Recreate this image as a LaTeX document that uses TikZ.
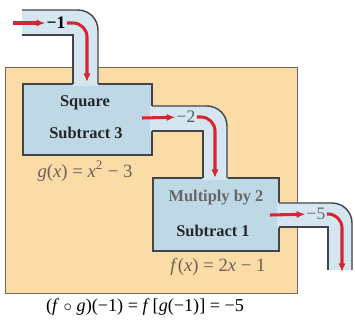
\documentclass[tikz,border=0pt]{standalone}
\usepackage{fontspec}
\setmainfont{Liberation Serif}
\usetikzlibrary{arrows.meta}
\definecolor{peach}{RGB}{251,219,166}
\definecolor{peachline}{RGB}{120,105,95}
\definecolor{boxblue}{RGB}{190,216,230}
\definecolor{pipeblue}{RGB}{212,231,241}
\definecolor{wallgray}{RGB}{68,68,72}
\definecolor{flowred}{RGB}{214,38,50}
\definecolor{rulebrown}{RGB}{110,96,88}

\begin{document}
\begin{tikzpicture}[x=0.03cm,y=-0.03cm,>=Latex,
  frame/.style={draw=peachline,line width=0.8pt,fill=peach,inner sep=0pt,outer sep=0pt,anchor=north west},
  machine/.style={draw=wallgray,line width=1.2pt,fill=boxblue,inner sep=0pt,outer sep=0pt,anchor=north west},
  pipe/.style={pipeblue,line width=0.75cm,line cap=butt,rounded corners=0.225cm},
  wall/.style={wallgray,line width=1.2pt},
  outerwall/.style={wall,rounded corners=0.6cm},
  flow/.style={flowred,line width=2.6pt,-{Latex[length=2.6mm,width=2.2mm]}},
  bendflow/.style={flow,rounded corners=0.42cm},
  optext/.style={font=\fontsize{14}{16}\selectfont\bfseries,text=black!85},
  rule/.style={font=\fontsize{16}{18}\selectfont,text=rulebrown},
  value/.style={font=\fontsize{15}{17}\selectfont,inner sep=1pt}]
\useasboundingbox (0,0) rectangle (355,323);
% outer machine and the two inner ones
\node[frame,minimum width=8.76cm,minimum height=6.78cm] (comp) at (5,67) {};
\node[machine,minimum width=3.87cm,minimum height=2.13cm] (g) at (23,84) {};
\node[machine,minimum width=3.78cm,minimum height=2.19cm] (f) at (153,178) {};
% pipes
\draw[pipe] (22,22.5) -- (85.5,22.5) -- (85.5,86);
\draw[pipe] (150,118.5) -- (215,118.5) -- (215,180);
\draw[pipe] (277,215) -- (340,215) -- (340,270);
\draw[outerwall] (22,10) -- (98,10) -- (98,84);
\draw[wall] (22,35) -- (73,35) -- (73,84);
\draw[outerwall] (152,106) -- (227,106) -- (227,178);
\draw[wall] (152,131) -- (203,131) -- (203,178);
\draw[outerwall] (279,203) -- (352,203) -- (352,270);
\draw[wall] (279,227) -- (328,227) -- (328,270);
% values flowing through
\node[value,font=\fontsize{15}{17}\selectfont\bfseries] (v1) at (56,23) {−1};
\node[value,text=black!65] (v2) at (186,117) {−2};
\node[value,text=black!60] (v5) at (316,214) {−5};
\coordinate (in1) at (13,23);
\coordinate (in2) at (142,118);
\coordinate (in5) at (270,215);
\draw[flow] (in1) -- (v1);
\draw[flow] (in2) -- (v2);
\draw[flow] (in5) -- (v5);
\draw[bendflow] (v1.east) -- (87,23) -- (87,82);
\draw[bendflow] (v2.east) -- (215,117) -- (215,178);
\draw[bendflow] (v5.east) -- (342,214) -- (342,272);
% labels
\node[optext] (sq) at (85,103) {Square};
\node[optext] (s3) at (86,133) {Subtract 3};
\node[rule] (gx) at (85,171) {\textit{g}(\textit{x}) = \textit{x}\textsuperscript{2} − 3};
\node[optext,text=black!60] (m2) at (216,198) {Multiply by 2};
\node[optext] (s1) at (213,231) {Subtract 1};
\node[rule] (fx) at (218,267) {\textit{f}(\textit{x}) = 2\textit{x} − 1};
\node[value,font=\fontsize{15.5}{17}\selectfont] (res) at (145,307) {(\textit{f} $\circ$ \textit{g})(−1) = \textit{f}\,[\textit{g}(−1)] = −5};
\end{tikzpicture}
\end{document}
